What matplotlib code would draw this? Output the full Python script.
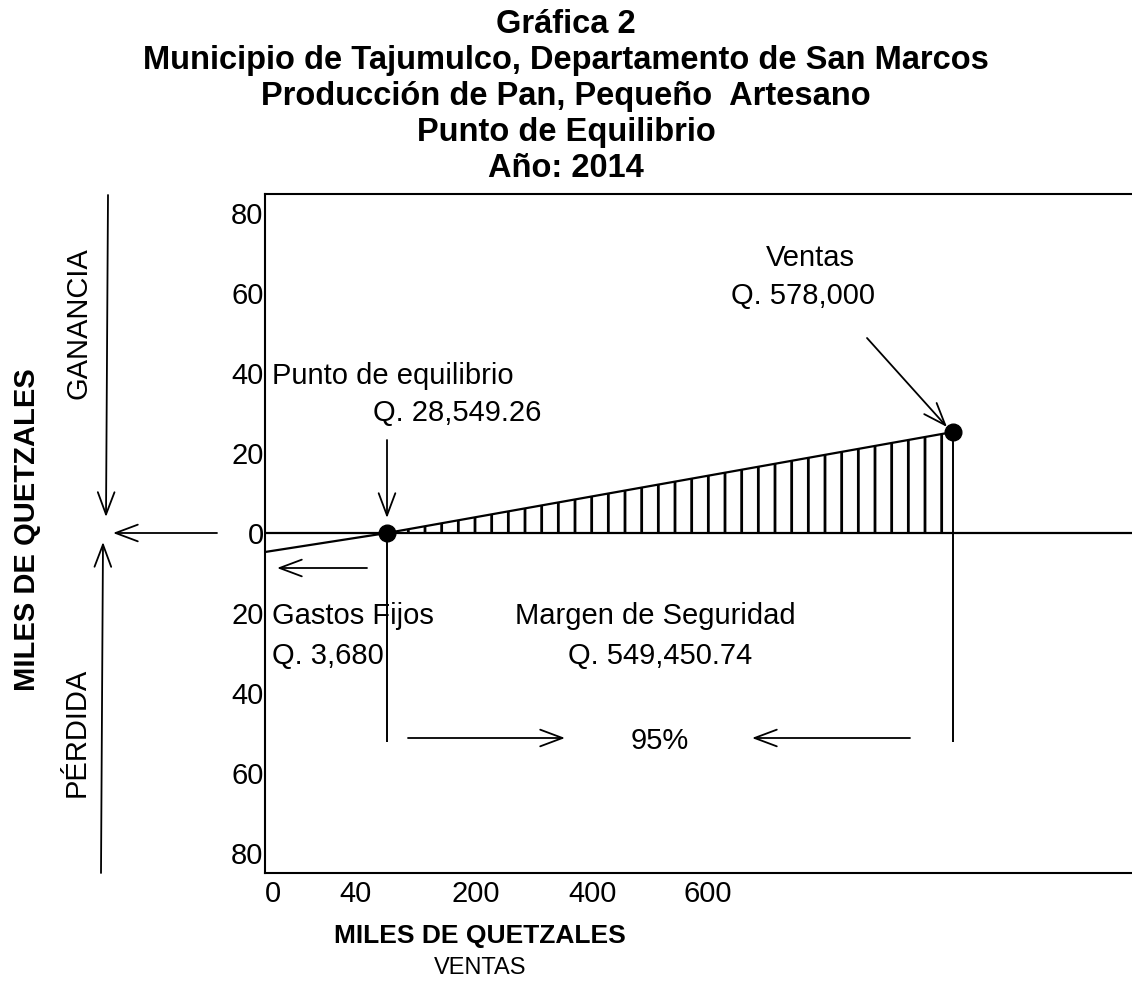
import matplotlib
matplotlib.use('Agg')
import matplotlib.pyplot as plt

plt.rcParams['font.family'] = ['Liberation Sans', 'DejaVu Sans']
plt.rcParams['hatch.linewidth'] = 2.0

W, H = 1132, 983

# the chart is a schematic, ticks are not to scale: positions are in drawing units
x_ticks = [8, 90, 211, 328, 443]
x_labels = ['0', '40', '200', '400', '600']
y_ticks = [80, 60, 40, 20, 0, -20, -40, -60, -80]
y_labels = ['80', '60', '40', '20', '0', '20', '40', '60', '80']

line_x = [0, 122, 688]          # start, punto de equilibrio, ventas
line_y = [-4.75, 0, 25.25]
equilibrio = (122, 0)
ventas = (688, 25.25)

title_lines = ['Gráfica 2',
               'Municipio de Tajumulco, Departamento de San Marcos',
               'Producción de Pan, Pequeño  Artesano',
               'Punto de Equilibrio',
               'Año: 2014']

FS = 21
arrow = dict(arrowstyle='->,head_length=0.8,head_width=0.3', lw=1.3, color='k',
             shrinkA=0, shrinkB=0, mutation_scale=20)

fig = plt.figure(figsize=(W / 100, H / 100), dpi=100)

# overlay in pixel coordinates for everything outside the plot box
ax0 = fig.add_axes([0, 0, 1, 1])
ax0.set_xlim(0, W)
ax0.set_ylim(H, 0)
ax0.axis('off')

for i, t in enumerate(title_lines):
    ax0.text(W / 2, 21 + 36 * i, t, ha='center', va='center_baseline',
             fontsize=23.5, fontweight='bold')

ax0.annotate('', xy=(113, 533), xytext=(217, 533), arrowprops=arrow)
ax0.annotate('', xy=(106, 517), xytext=(108, 195), arrowprops=arrow)
ax0.annotate('', xy=(103, 542), xytext=(101, 873), arrowprops=arrow)
ax0.text(79, 323, 'GANANCIA', rotation=90, ha='center', va='center', fontsize=FS)
ax0.text(77, 732, 'PÉRDIDA', rotation=90, ha='center', va='center', fontsize=FS)
ax0.text(27, 530, 'MILES DE QUETZALES', rotation=90, ha='center', va='center',
         fontsize=FS, fontweight='bold')
ax0.text(480, 934, 'MILES DE QUETZALES', ha='center', va='center_baseline',
         fontsize=19, fontweight='bold')
ax0.text(480, 966, 'VENTAS', ha='center', va='center_baseline', fontsize=17)

# main plot box
ax = fig.add_axes([265 / W, (H - 873) / H, (W - 265) / W, (873 - 194) / H])
ax.patch.set_alpha(0)
ax.set_xlim(0, 867)
ax.set_ylim(-85, 84.75)
ax.spines['right'].set_visible(False)
for s in ['left', 'top', 'bottom']:
    ax.spines[s].set_linewidth(1.5)
ax.set_xticks(x_ticks, x_labels)
ax.set_yticks(y_ticks, y_labels)
ax.tick_params(axis='both', length=0, labelsize=FS)
ax.tick_params(axis='y', pad=1)
ax.tick_params(axis='x', pad=5)

ax.axhline(0, color='k', lw=1.6)
ax.plot(line_x, line_y, color='k', lw=1.6)
ax.fill_between([equilibrio[0], ventas[0]], [0, 0], [equilibrio[1], ventas[1]],
                facecolor='none', edgecolor='k', hatch='|', linewidth=0)
ax.plot(*equilibrio, 'ko', ms=12)
ax.plot(*ventas, 'ko', ms=12)
ax.vlines([equilibrio[0], ventas[0]], [equilibrio[1], ventas[1]], -52.25,
          color='k', lw=1.4)

ax.text(7, 40, 'Punto de equilibrio', ha='left', va='center_baseline', fontsize=FS)
ax.text(192, 30.75, 'Q. 28,549.26', ha='center', va='center_baseline', fontsize=FS)
ax.annotate('', xy=(122, 3.75), xytext=(122, 23.25), arrowprops=arrow)
ax.text(545, 69.5, 'Ventas', ha='center', va='center_baseline', fontsize=FS)
ax.text(538, 60, 'Q. 578,000', ha='center', va='center_baseline', fontsize=FS)
ax.annotate('', xy=(682, 26.5), xytext=(602, 48.75), arrowprops=arrow)
ax.annotate('', xy=(12, -8.75), xytext=(102, -8.75), arrowprops=arrow)
ax.text(7, -20, 'Gastos Fijos', ha='left', va='center_baseline', fontsize=FS)
ax.text(7, -30, 'Q. 3,680', ha='left', va='center_baseline', fontsize=FS)
ax.text(390, -20, 'Margen de Seguridad', ha='center', va='center_baseline', fontsize=FS)
ax.text(395, -30, 'Q. 549,450.74', ha='center', va='center_baseline', fontsize=FS)
ax.text(395, -51.25, '95%', ha='center', va='center_baseline', fontsize=FS)
ax.annotate('', xy=(300, -51.25), xytext=(143, -51.25), arrowprops=arrow)
ax.annotate('', xy=(487, -51.25), xytext=(645, -51.25), arrowprops=arrow)

fig.savefig('out.png', dpi=100)
